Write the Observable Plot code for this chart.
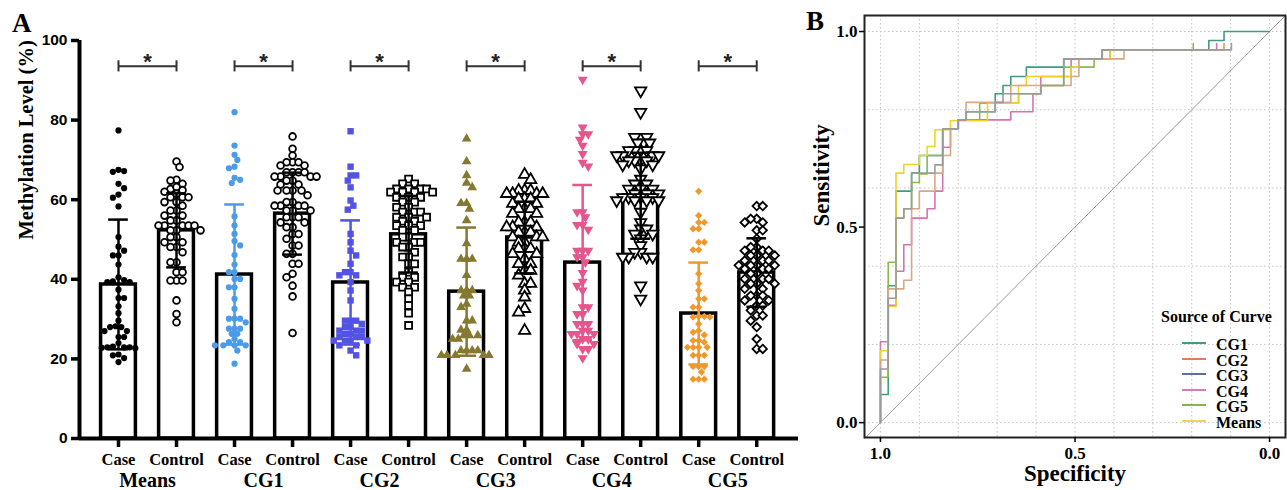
<!DOCTYPE html>
<html><head><meta charset="utf-8">
<script src="https://cdn.jsdelivr.net/npm/d3@7"></script>
<script src="https://cdn.jsdelivr.net/npm/@observablehq/plot@0.6"></script>
<style>
body{margin:0;background:#fff;}
#wrap{position:relative;width:1287px;height:490px;overflow:hidden;background:#fff;}
#panelA{position:absolute;left:0;top:0;}
#panelB{position:absolute;left:800px;top:0;}
.lbl{position:absolute;font-family:"Liberation Serif","Times New Roman",serif;font-weight:bold;line-height:1;white-space:nowrap;color:#000;}
.sw{position:absolute;height:2px;}
</style></head><body>
<div id="wrap">
  <div id="panelA"></div>
  <div id="panelB"></div>
  <div class="lbl" style="left:12px;top:10px;font-size:27px;">A</div>
  <div class="lbl" style="left:806px;top:8px;font-size:27px;">B</div>
  <div id="legend"></div>
</div>
<script>
// ---------------- DATA ----------------
const groups = ["Means", "CG1", "CG2", "CG3", "CG4", "CG5"];
const tickLabels = ["Case", "Control"];

const case_mean = [38.7, 41.2, 39.2, 36.9, 44.2, 31.4];
const case_sd = [16.3, 17.6, 15.6, 16.1, 19.5, 12.8];
const control_mean = [52.3, 56.5, 51.3, 50.5, 61.0, 41.7];
const control_sd = [9.3, 10.3, 9.6, 9.0, 10.8, 8.6];

const means_case = [77.4, 67.5, 67.2, 67.0, 64.0, 62.9, 61.3, 60.5, 58.3, 50.6, 48.2, 47.2, 46.0, 46.0, 43.7, 40.5, 39.3, 39.3, 39.5, 39.8, 37.4, 35.3, 35.3, 33.2, 31.5, 29.6, 28.0, 28.0, 28.2, 27.0, 27.0, 25.5, 25.5, 24.0, 22.9, 22.9, 22.7, 23.1, 22.8, 22.9, 20.9, 21.1, 19.2, 20.2];
const means_control = [69.6, 68.2, 65.0, 64.8, 64.0, 62.7, 62.4, 62.0, 63.2, 61.5, 60.6, 60.6, 60.6, 59.4, 59.4, 58.5, 57.3, 57.3, 56.0, 56.0, 54.8, 54.8, 53.5, 53.5, 53.5, 53.5, 53.5, 52.3, 52.3, 52.3, 50.6, 50.6, 49.3, 49.3, 48.1, 48.1, 46.8, 44.3, 44.3, 41.8, 41.8, 39.7, 39.7, 39.7, 34.7, 31.3, 29.2];
const cg1_case = [82.0, 73.6, 71.3, 70.0, 68.3, 67.9, 65.5, 65.0, 64.2, 55.8, 53.5, 51.4, 49.6, 48.5, 46.1, 43.7, 41.8, 41.8, 40.1, 40.1, 38.0, 38.0, 35.1, 32.6, 30.1, 30.1, 30.1, 29.2, 27.6, 27.6, 27.6, 26.3, 26.3, 25.0, 24.2, 24.2, 23.4, 23.4, 23.4, 23.4, 22.1, 18.8];
const cg1_control = [75.9, 72.8, 71.1, 69.4, 69.4, 69.4, 68.6, 68.6, 66.9, 66.9, 66.9, 66.9, 65.8, 65.8, 65.8, 65.8, 64.8, 64.8, 63.8, 63.8, 62.3, 62.3, 62.3, 62.3, 61.1, 59.4, 59.4, 58.5, 58.5, 58.5, 58.5, 57.3, 57.3, 57.3, 55.6, 55.6, 55.6, 54.3, 54.3, 53.1, 53.1, 51.4, 51.4, 50.2, 48.5, 48.5, 46.4, 46.4, 43.9, 43.9, 41.4, 40.5, 38.4, 35.7, 26.5];
const cg2_case = [77.2, 68.3, 66.1, 66.1, 64.8, 63.1, 59.8, 58.5, 57.5, 51.4, 49.3, 47.2, 46.0, 43.9, 41.8, 41.8, 41.0, 41.0, 39.3, 37.2, 34.7, 29.6, 29.6, 29.6, 28.8, 28.0, 28.0, 27.1, 27.1, 27.1, 26.3, 26.3, 25.5, 25.5, 25.5, 24.6, 24.6, 24.6, 24.6, 23.4, 23.4, 22.1, 20.9];
const cg2_control = [65.2, 64.0, 64.0, 62.7, 62.7, 62.7, 62.7, 61.9, 61.9, 61.9, 61.9, 60.6, 60.6, 60.6, 59.4, 59.4, 58.1, 58.1, 56.9, 56.9, 56.9, 55.6, 55.6, 55.6, 54.6, 54.6, 53.5, 53.5, 53.5, 52.3, 52.3, 50.6, 50.6, 49.3, 49.3, 49.3, 48.1, 48.1, 46.8, 45.6, 45.6, 43.9, 43.9, 41.8, 40.5, 40.5, 39.3, 39.3, 38.0, 38.0, 36.8, 35.1, 33.4, 31.5, 28.4];
const cg3_case = [75.3, 69.6, 66.1, 64.2, 63.1, 59.1, 59.1, 57.7, 54.8, 49.0, 45.1, 45.1, 45.1, 41.0, 37.2, 37.2, 37.2, 35.9, 35.9, 33.8, 33.0, 29.6, 29.6, 27.3, 27.3, 25.9, 25.9, 25.9, 25.0, 25.0, 22.1, 22.1, 22.1, 22.1, 20.9, 20.9, 20.9, 20.9, 20.9, 17.5];
const cg3_control = [66.3, 65.0, 62.3, 62.3, 62.3, 61.5, 61.5, 61.5, 61.5, 60.2, 60.2, 60.2, 59.0, 59.0, 57.7, 57.7, 57.7, 56.5, 56.5, 54.3, 54.3, 54.3, 53.1, 53.1, 53.1, 51.8, 51.8, 51.8, 50.6, 50.6, 50.6, 49.3, 49.3, 47.7, 47.7, 47.7, 46.4, 46.4, 45.1, 43.9, 43.9, 42.2, 42.2, 41.0, 38.9, 38.9, 37.2, 35.5, 32.6, 31.7, 27.1];
const cg4_case = [90.2, 78.2, 76.5, 76.5, 75.1, 73.6, 71.5, 69.3, 68.4, 56.9, 56.9, 55.6, 53.7, 53.7, 52.5, 47.2, 47.2, 47.2, 45.6, 45.6, 44.3, 41.6, 39.4, 38.4, 37.2, 33.0, 33.0, 31.3, 31.3, 28.8, 28.8, 28.8, 27.1, 27.1, 26.3, 26.3, 26.3, 25.0, 25.0, 23.8, 23.8, 22.5, 22.5, 20.2];
const cg4_control = [87.4, 82.0, 75.7, 75.7, 75.7, 74.3, 74.3, 74.3, 72.4, 72.4, 72.4, 72.4, 71.1, 71.1, 71.1, 71.1, 69.8, 69.8, 69.8, 69.8, 68.8, 68.8, 67.8, 65.2, 64.0, 64.0, 62.7, 62.7, 62.7, 61.5, 61.5, 61.5, 60.6, 60.6, 60.6, 60.6, 59.8, 59.8, 59.8, 59.8, 56.9, 54.3, 52.7, 52.7, 51.4, 51.4, 50.2, 48.5, 46.8, 46.8, 45.6, 45.6, 45.6, 45.6, 38.4, 35.1];
const cg5_case = [62.1, 56.0, 54.3, 54.3, 52.7, 52.7, 49.3, 49.3, 47.4, 47.4, 41.4, 38.9, 37.2, 35.1, 35.1, 33.0, 33.0, 30.7, 30.7, 30.5, 30.5, 28.8, 27.1, 26.7, 26.0, 24.6, 24.6, 24.2, 22.9, 22.9, 22.9, 22.9, 20.9, 20.9, 20.9, 18.1, 18.1, 18.1, 16.7, 14.9, 14.9, 14.9];
const cg5_control = [58.4, 58.4, 55.2, 55.2, 54.3, 54.3, 52.3, 52.3, 50.2, 48.1, 48.1, 47.2, 47.2, 47.2, 46.0, 46.0, 46.0, 44.7, 44.7, 44.7, 43.5, 43.5, 43.5, 43.5, 42.6, 42.6, 42.6, 41.4, 41.4, 40.1, 40.1, 40.1, 38.9, 38.9, 38.9, 37.6, 37.6, 35.9, 35.9, 35.9, 34.7, 34.7, 33.4, 33.4, 32.2, 30.9, 30.9, 29.6, 28.0, 25.0, 22.5, 22.5];

// ROC curves: [specificity, sensitivity] step corners
const curveNames = ["CG1", "CG2", "CG3", "CG4", "CG5", "Means"];
const roc_cg1 = [[1,0],[1,0.072],[0.98,0.35],[0.96,0.592],[0.92,0.638],[0.90,0.683],[0.84,0.751],[0.80,0.774],[0.78,0.795],[0.705,0.841],[0.685,0.862],[0.665,0.885],[0.625,0.909],[0.529,0.930],[0.43,0.953],[0.156,0.977],[0.117,1.0],[0,1.0]];
const roc_cg2 = [[1,0],[1,0.160],[0.98,0.342],[0.94,0.364],[0.92,0.547],[0.90,0.592],[0.86,0.638],[0.84,0.683],[0.82,0.751],[0.80,0.774],[0.78,0.819],[0.665,0.862],[0.51,0.885],[0.49,0.930],[0.374,0.953],[0.117,0.953],[0.117,0.969]];
const roc_cg3 = [[1,0],[1,0.137],[0.98,0.318],[0.96,0.523],[0.94,0.547],[0.92,0.638],[0.86,0.659],[0.84,0.751],[0.80,0.774],[0.78,0.795],[0.705,0.819],[0.685,0.841],[0.588,0.862],[0.529,0.930],[0.43,0.953],[0.098,0.953],[0.098,0.969]];
const roc_cg4 = [[1,0],[1,0.207],[0.98,0.30],[0.96,0.387],[0.94,0.455],[0.92,0.523],[0.88,0.547],[0.86,0.592],[0.84,0.704],[0.82,0.751],[0.80,0.774],[0.665,0.795],[0.608,0.841],[0.588,0.885],[0.51,0.930],[0.43,0.953],[0.136,0.953],[0.136,0.969]];
const roc_cg5 = [[1,0],[1,0.116],[0.98,0.41],[0.96,0.523],[0.94,0.547],[0.92,0.614],[0.90,0.636],[0.88,0.683],[0.84,0.751],[0.80,0.774],[0.745,0.817],[0.645,0.841],[0.588,0.862],[0.529,0.909],[0.451,0.930],[0.41,0.953],[0.196,0.953],[0.196,0.969]];
const roc_means = [[1,0],[1,0.184],[0.98,0.297],[0.96,0.638],[0.94,0.66],[0.90,0.683],[0.88,0.706],[0.86,0.749],[0.82,0.772],[0.725,0.817],[0.645,0.862],[0.625,0.885],[0.51,0.909],[0.49,0.930],[0.41,0.953],[0.117,0.953],[0.117,0.969]];

// ---------------- PANEL A ----------------
const serif = "Liberation Serif, Times New Roman, serif";
const sans = "Liberation Sans, Arial, sans-serif";
const W = 800, H = 490, mL = 79, mR = 2, mT = 40, mB = 52;
const xDom = [-0.672, 11.72];
const pxX = (W - mL - mR) / (xDom[1] - xDom[0]);
const pxY = (H - mT - mB) / 100;

const caseColor = ["#000000", "#4b9be8", "#5252e4", "#857830", "#e6558d", "#f1982c"];
const triDown = {
  draw(ctx, size) {
    const y = -Math.sqrt(size / (Math.sqrt(3) * 3));
    ctx.moveTo(0, -y * 2);
    ctx.lineTo(-Math.sqrt(3) * y, y);
    ctx.lineTo(Math.sqrt(3) * y, y);
    ctx.closePath();
  }
};
const symbols = ["circle", "circle", "square", "triangle", triDown, "diamond2"];
const caseR = [3.1, 3.1, 3.6, 3.6, 3.7, 3.3];
const ctrlR = [3.4, 3.4, 3.9, 4.2, 4.2, 3.8];

function swarm(values, minDist) {
  const placed = [];
  const offs = new Array(values.length);
  const order = d3.range(values.length).sort((a, b) => d3.descending(values[a], values[b]));
  const step = minDist / 2;
  let side = 1;
  for (const i of order) {
    const y = values[i] * pxY;
    let chosen = 0;
    for (let k = 0; k < 400; k++) {
      const c = k === 0 ? 0 : side * (k % 2 ? 1 : -1) * Math.ceil(k / 2) * step;
      if (placed.every(p => (p.x - c) ** 2 + (p.y - y) ** 2 >= minDist * minDist)) { chosen = c; break; }
    }
    if (chosen !== 0) side = -Math.sign(chosen);
    placed.push({x: chosen, y});
    offs[i] = chosen;
  }
  return offs;
}

const caseSets = [means_case, cg1_case, cg2_case, cg3_case, cg4_case, cg5_case];
const ctrlSets = [means_control, cg1_control, cg2_control, cg3_control, cg4_control, cg5_control];

const stats = [];
groups.forEach((g, k) => {
  stats.push({i: 2 * k, mean: case_mean[k], sd: case_sd[k], color: caseColor[k]});
  stats.push({i: 2 * k + 1, mean: control_mean[k], sd: control_sd[k], color: "#000000"});
});

const marksA = [];
marksA.push(Plot.rectY(stats, {x1: d => d.i - 0.3, x2: d => d.i + 0.3, y1: 0, y2: "mean", fill: "white", stroke: "black", strokeWidth: 3.5}));

groups.forEach((g, k) => {
  const cv = caseSets[k];
  const co = swarm(cv, 5.6);
  marksA.push(Plot.dot(cv.map((v, j) => ({x: 2 * k + co[j] / pxX, v})),
    {x: "x", y: "v", symbol: symbols[k], r: caseR[k], fill: caseColor[k], stroke: "none"}));
  const tv = ctrlSets[k];
  const to = swarm(tv, 6.0);
  marksA.push(Plot.dot(tv.map((v, j) => ({x: 2 * k + 1 + to[j] / pxX, v})),
    {x: "x", y: "v", symbol: symbols[k], r: ctrlR[k], fill: "white", stroke: "black", strokeWidth: 1.8}));
});

// error bars (mean ± SD)
marksA.push(Plot.ruleX(stats, {x: "i", y1: d => d.mean - d.sd, y2: d => d.mean + d.sd, stroke: "color", strokeWidth: 2.5}));
marksA.push(Plot.ruleY(stats, {y: d => d.mean + d.sd, x1: d => d.i - 0.17, x2: d => d.i + 0.17, stroke: "color", strokeWidth: 2.5}));
marksA.push(Plot.ruleY(stats, {y: d => d.mean - d.sd, x1: d => d.i - 0.17, x2: d => d.i + 0.17, stroke: "color", strokeWidth: 2.5}));

// significance brackets
const sigY = 93.5;
marksA.push(Plot.ruleY(groups, {y: sigY, x1: (d, k) => 2 * k, x2: (d, k) => 2 * k + 1, stroke: "#333", strokeWidth: 2}));
const capEnds = groups.flatMap((d, k) => [2 * k, 2 * k + 1]);
marksA.push(Plot.ruleX(capEnds, {x: d => d, y1: sigY - 1.4, y2: sigY + 1.4, stroke: "#333", strokeWidth: 2}));
marksA.push(Plot.text(groups, {x: (d, k) => 2 * k + 0.5, y: sigY + 1.2, text: () => "*", fontSize: 22, fontWeight: "bold", fontFamily: sans, lineAnchor: "middle", fill: "#222"}));

// axes
marksA.push(Plot.ruleY([0], {strokeWidth: 4}));
marksA.push(Plot.ruleX([xDom[0]], {strokeWidth: 4}));
marksA.push(Plot.axisY({ticks: d3.range(0, 101, 20), tickSize: 8, tickPadding: 4, strokeWidth: 3.5, fontSize: 15.5, fontWeight: "bold", fontFamily: sans, label: null}));
marksA.push(Plot.axisX({ticks: d3.range(12), tickFormat: i => tickLabels[i % 2], tickSize: 9, tickPadding: 5.8, strokeWidth: 3.5, fontSize: 16.5, fontWeight: "bold", fontFamily: serif, label: null}));
marksA.push(Plot.axisX({ticks: groups.map((g, k) => 2 * k + 0.5), tickFormat: t => groups[Math.floor(t / 2)], tickSize: 0, tickPadding: 34.3, fontSize: 20, fontWeight: "bold", fontFamily: serif, label: null}));
marksA.push(Plot.text(["Methylation Level (%)"], {frameAnchor: "left", rotate: -90, dx: -53, fontSize: 20.5, fontWeight: "bold", fontFamily: serif, lineAnchor: "middle"}));

const chartA = Plot.plot({
  width: W, height: H, marginLeft: mL, marginRight: mR, marginTop: mT, marginBottom: mB,
  x: {domain: xDom}, y: {domain: [0, 100]},
  color: {type: "identity"},
  style: {background: "white", overflow: "visible"},
  marks: marksA
});
document.getElementById("panelA").appendChild(chartA);

// ---------------- PANEL B ----------------
const curveColor = ["#3f9c80", "#d8a883", "#9b9b9b", "#d474b4", "#88ba4c", "#f2d22a"];
const legendColor = ["#3f9c80", "#e47b5c", "#5f6f9f", "#d47cb6", "#86b548", "#f0d650"];
const rocSets = [roc_cg1, roc_cg2, roc_cg3, roc_cg4, roc_cg5, roc_means];
const drawOrder = [0, 3, 4, 5, 1, 2];
const xDomB = [1.041, -0.041], yDomB = [-0.038, 1.041];

const marksB = [
  Plot.ruleX(d3.range(0, 11).map(k => k / 10), {stroke: "#c4c4c4", strokeDasharray: "1.5,2.5", strokeWidth: 1}),
  Plot.ruleY(d3.range(0, 6).map(k => k / 5), {stroke: "#c4c4c4", strokeDasharray: "1.5,2.5", strokeWidth: 1}),
  Plot.line(xDomB, {x: d => d, y: d => 1 - d, stroke: "#9a9a9a", strokeWidth: 1})
];
drawOrder.forEach(k => {
  marksB.push(Plot.line(rocSets[k], {x: d => d[0], y: d => d[1], stroke: curveColor[k], strokeWidth: 1.6, curve: "step-after"}));
});
marksB.push(
  Plot.frame({stroke: "#222", strokeWidth: 2}),
  Plot.axisX({ticks: [1, 0.5, 0], tickFormat: d3.format(".1f"), tickSize: 5, tickPadding: 4, strokeWidth: 1.5, fontSize: 17, fontWeight: "bold", fontFamily: serif, label: null}),
  Plot.axisY({ticks: [0, 0.5, 1], tickFormat: d3.format(".1f"), tickSize: 5, tickPadding: 2, strokeWidth: 1.5, fontSize: 17, fontWeight: "bold", fontFamily: serif, label: null}),
  Plot.text(["Sensitivity"], {frameAnchor: "left", rotate: -90, dx: -43, fontSize: 23, fontWeight: "bold", fontFamily: serif, lineAnchor: "middle"}),
  Plot.text(["Specificity"], {frameAnchor: "bottom", dy: 36, fontSize: 23, fontWeight: "bold", fontFamily: serif, lineAnchor: "middle"})
);
const chartB = Plot.plot({
  width: 487, height: 490, marginLeft: 64, marginRight: 2, marginTop: 15, marginBottom: 53,
  x: {domain: xDomB}, y: {domain: yDomB},
  style: {background: "transparent", overflow: "visible"},
  marks: marksB
});
document.getElementById("panelB").appendChild(chartB);

// legend
const lg = document.getElementById("legend");
let html = '<div class="lbl" style="left:1161px;top:309px;font-size:16px;">Source of Curve</div>';
const swY = [343, 358.5, 374, 389.5, 405, 420.5];
curveNames.forEach((n, k) => {
  html += `<div class="sw" style="left:1182px;top:${swY[k] - 1}px;width:24px;background:${legendColor[k]};"></div>`;
  html += `<div class="lbl" style="left:1216px;top:${swY[k] - 4.6}px;font-size:16px;line-height:0.9;height:14.4px;">${n}</div>`;
});
lg.innerHTML = html;
</script>
</body></html>
